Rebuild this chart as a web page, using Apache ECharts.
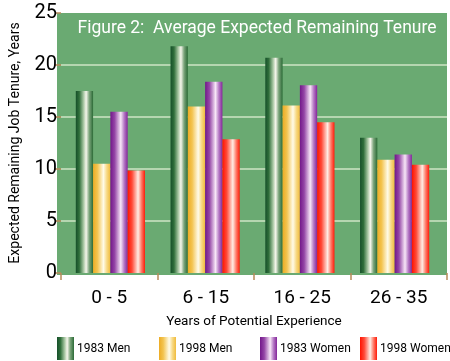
<!DOCTYPE html>
<html><head><meta charset="utf-8">
<script src="https://cdn.jsdelivr.net/npm/echarts@6/dist/echarts.min.js"></script>
<style>html,body{margin:0;padding:0;background:#fff}#c{width:450px;height:361px}</style>
</head><body><div id="c"></div>
<script>
const categories = ['0 - 5', '6 - 15', '16 - 25', '26 - 35'];
const seriesNames = ['1983 Men', '1998 Men', '1983 Women', '1998 Women'];
const men1983 = [17.5, 21.8, 20.7, 13.0];
const men1998 = [10.5, 16.0, 16.1, 10.9];
const women1983 = [15.5, 18.4, 18.05, 11.4];
const women1998 = [9.85, 12.85, 14.5, 10.4];
const yTicks = [0, 5, 10, 15, 20, 25];

const FONT = 'Roboto, sans-serif';
function grad(stops) {
  return new echarts.graphic.LinearGradient(0, 0, 1, 0, stops.map((c, i) => ({offset: c[0], color: c[1]})));
}
const colors = [
  grad([[0,'#16502a'],[0.2,'#2f6e3a'],[0.45,'#a9c8a4'],[0.6,'#f6f6ec'],[0.78,'#7aa47a'],[1,'#2b6a36']]),
  grad([[0,'#edac24'],[0.25,'#f3c450'],[0.6,'#fffbe8'],[0.8,'#f7d882'],[1,'#f0bb3c']]),
  grad([[0,'#72178a'],[0.25,'#9446a6'],[0.6,'#f7e6f7'],[0.8,'#b478c4'],[1,'#84269a']]),
  grad([[0,'#ff1200'],[0.25,'#ff4a38'],[0.6,'#ffece4'],[0.8,'#ff7a68'],[1,'#ff1a08']])
];
const dataArr = [men1983, men1998, women1983, women1998];
const legendLeft = [57, 159, 260, 360];

const chart = echarts.init(document.getElementById('c'), null, {renderer: 'canvas'});
chart.setOption({
  animation: false,
  title: {
    text: 'Figure 2:  Average Expected Remaining Tenure',
    left: 252, top: 15, textAlign: 'center',
    textStyle: {color: '#ffffff', fontFamily: FONT, fontSize: 17.5, fontWeight: 'normal'}
  },
  legend: seriesNames.map((n, i) => ({
    data: [n], left: legendLeft[i], top: 337, padding: 0,
    itemWidth: 17, itemHeight: 23, itemGap: 0,
    icon: 'rect',
    textStyle: {fontFamily: FONT, fontSize: 12, color: '#000', padding: [0, 0, 0, -2]},
    selectedMode: false
  })),
  grid: [
    {left: 57, width: 390, top: 13, height: 262, show: true, backgroundColor: '#6aaa72', borderWidth: 0, z: 0},
    {left: 57, width: 390, top: 13, height: 260, show: false},
    {left: 63, width: 379, top: 13, height: 260, show: false}
  ],
  xAxis: [
    {gridIndex: 0, type: 'category', show: false, data: categories},
    {gridIndex: 1, type: 'category', data: categories, offset: 5,
      axisLine: {show: false},
      axisTick: {show: true, length: 7, lineStyle: {color: '#b88a5a', width: 1.5}},
      axisLabel: {fontFamily: FONT, fontSize: 19, color: '#000', margin: 11},
      name: 'Years of Potential Experience', nameLocation: 'middle', nameGap: 37,
      nameTextStyle: {fontFamily: FONT, fontSize: 13.5, color: '#000'}
    },
    {gridIndex: 2, type: 'category', show: false, data: categories}
  ],
  yAxis: [
    {gridIndex: 0, type: 'value', show: false, min: 0, max: 25},
    {gridIndex: 1, type: 'value', min: yTicks[0], max: yTicks[yTicks.length - 1], interval: 5,
      axisLine: {show: false},
      axisTick: {show: true, length: 6, lineStyle: {color: '#b88a5a', width: 1.5}},
      axisLabel: {fontFamily: FONT, fontSize: 20, color: '#000', margin: 4},
      splitLine: {show: true, showMinLine: false, showMaxLine: false, lineStyle: {color: '#cfe4c6', width: 1.5}},
      name: 'Expected Remaining Job Tenure, Years', nameLocation: 'middle', nameGap: 39,
      nameTextStyle: {fontFamily: FONT, fontSize: 14, color: '#000'}
    },
    {gridIndex: 2, type: 'value', show: false, min: 0, max: 25}
  ],
  series: seriesNames.map((n, i) => ({
    name: n, type: 'bar', xAxisIndex: 2, yAxisIndex: 2,
    data: dataArr[i], barGap: '0%', barCategoryGap: '27%',
    itemStyle: {color: colors[i]}, z: 3
  }))
});
</script></body></html>
